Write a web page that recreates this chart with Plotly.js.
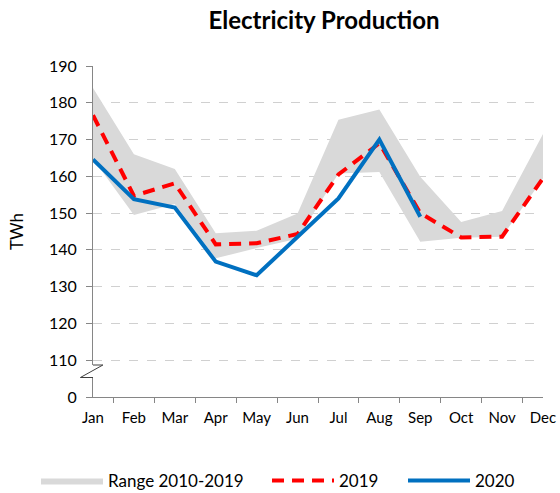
<!DOCTYPE html>
<html>
<head>
<meta charset="utf-8">
<script src="https://cdn.plot.ly/plotly-3.0.1.min.js"></script>
<style>html,body{margin:0;padding:0;background:#fff;}#chart{width:560px;height:493px;}</style>
</head>
<body>
<div id="chart"></div>
<script>
var months = ['Jan','Feb','Mar','Apr','May','Jun','Jul','Aug','Sep','Oct','Nov','Dec'];
var rangeMin = [164.8,149.5,152.5,137.7,140.5,143.0,160.8,161.2,142.2,143.3,143.6,159.4];
var rangeMax = [184.0,166.0,162.0,144.5,145.2,149.9,175.4,178.2,159.9,147.6,150.6,171.5];
var y2019 = [176.6,154.7,158.1,141.5,141.8,144.3,160.5,169.0,150.0,143.4,143.6,159.5];
var y2020 = [164.6,153.8,151.5,136.8,133.1,143.4,154.0,170.0,149.0];
var months2020 = months.slice(0, y2020.length);
var yTickVals = [100,110,120,130,140,150,160,170,180,190];
var yTickText = ['0','110','120','130','140','150','160','170','180','190'];

var FONT = 'Lato, "Open Sans", sans-serif';
var axisColor = '#868686';

var traces = [
  {x: months, y: rangeMin, type: 'scatter', mode: 'lines', line: {width: 0, color: '#d9d9d9'},
   showlegend: false, hoverinfo: 'skip'},
  {x: months, y: rangeMax, type: 'scatter', mode: 'lines', fill: 'tonexty', fillcolor: '#d9d9d9',
   line: {width: 0, color: '#d9d9d9'}, name: 'Range 2010-2019', legend: 'legend'},
  {x: months, y: y2019, type: 'scatter', mode: 'lines', name: '2019', legend: 'legend2',
   line: {color: '#ff0000', width: 4, dash: '12px,8px'}},
  {x: months2020, y: y2020, type: 'scatter', mode: 'lines', name: '2020', legend: 'legend3',
   line: {color: '#0070c0', width: 4}}
];

function legendAt(xpx) {
  return {orientation: 'h', xref: 'container', yref: 'container', x: xpx / 560, xanchor: 'left',
          y: 12 / 493, yanchor: 'middle', font: {size: 17}, itemwidth: 62,
          bgcolor: 'rgba(0,0,0,0)', borderwidth: 0};
}

var layout = {
  width: 560, height: 493,
  margin: {l: 93, r: 17, t: 66, b: 96},
  paper_bgcolor: '#ffffff', plot_bgcolor: '#ffffff',
  font: {family: FONT, color: '#000', size: 15},
  title: {text: '<b>Electricity Production</b>', xref: 'container', x: 324 / 560, xanchor: 'center',
          yref: 'container', y: 1 - 20.5 / 493, yanchor: 'middle',
          font: {family: FONT, size: 24, color: '#000'}},
  xaxis: {
    type: 'category', range: [0, 11], tickson: 'boundaries', ticks: 'outside', ticklen: 5,
    tickcolor: axisColor, showline: true, linecolor: axisColor, linewidth: 1,
    showgrid: false, zeroline: false, tickfont: {size: 15}, ticklabelstandoff: 7, fixedrange: true
  },
  yaxis: {
    range: [100, 190], tickvals: yTickVals, ticktext: yTickText, ticks: 'outside', ticklen: 6,
    tickcolor: axisColor, showline: true, linecolor: axisColor, linewidth: 1,
    showgrid: true, gridcolor: '#d0d0d0', griddash: 'dash', gridwidth: 1, zeroline: false,
    tickfont: {size: 16}, ticklabelstandoff: 6,
    title: {text: 'TWh', font: {size: 17}, standoff: 21}, fixedrange: true
  },
  showlegend: true,
  legend: legendAt(36),
  legend2: legendAt(267),
  legend3: legendAt(403),
  shapes: [
    {type: 'rect', xref: 'paper', yref: 'y', x0: -0.006, x1: 0.006, y0: 105.3, y1: 108.7,
     fillcolor: '#ffffff', line: {width: 0}, layer: 'above'},
    {type: 'path', xref: 'paper', yref: 'y', layer: 'above',
     path: 'M 0 108.7 L 0.022 108.7 L -0.028 105.3 L 0 105.3',
     line: {color: '#404040', width: 1}}
  ]
};

Plotly.newPlot('chart', traces, layout, {displayModeBar: false, staticPlot: true});
</script>
</body>
</html>
